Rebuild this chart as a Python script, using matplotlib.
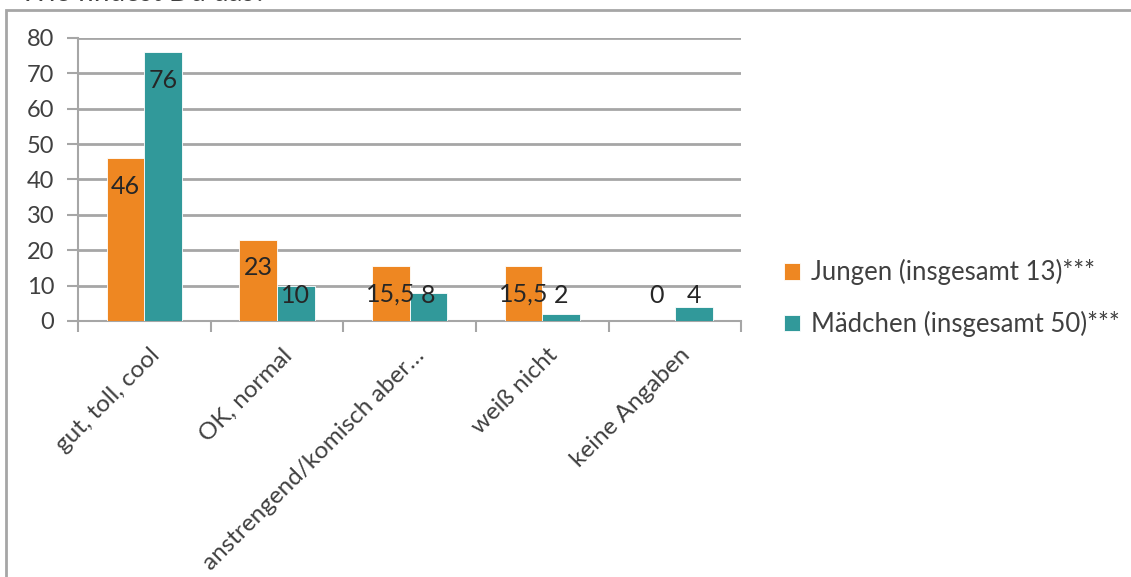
import matplotlib
matplotlib.use("Agg")
import matplotlib.pyplot as plt
from matplotlib.patches import Rectangle
import numpy as np

categories = ["gut, toll, cool", "OK, normal", "anstrengend/komisch aber…",
              "weiß nicht", "keine Angaben"]
jungen = [46, 23, 15.5, 15.5, 0]
maedchen = [76, 10, 8, 2, 4]
jungen_labels = ["46", "23", "15,5", "15,5", "0"]
maedchen_labels = ["76", "10", "8", "2", "4"]
series_names = ["Jungen (insgesamt 13)***", "Mädchen (insgesamt 50)***"]
title = "Wie findest Du das?"
yticks = list(range(0, 81, 10))

ORANGE = "#EE8722"
TEAL = "#31999A"
GRID = "#A6A6A6"
TEXT = "#404040"

plt.rcParams["font.family"] = ["Lato", "DejaVu Sans"]

fig = plt.figure(figsize=(11.31, 5.77), dpi=100)
ax = fig.add_axes([0.069, 0.4437, 0.5865, 0.4905])

# outer chart frame (runs past the right and bottom edges) and the title above it
fig.patches.append(Rectangle((0.005, -0.05), 1.2, 1.033, transform=fig.transFigure,
                             fill=False, edgecolor=GRID, linewidth=2, zorder=0))
fig.text(0.018, 1.012, title, fontsize=20, color=TEXT, va="center", ha="left")

x = np.arange(len(categories))
w = 0.283
b1 = ax.bar(x - w / 2, jungen, w, color=ORANGE, edgecolor="white", linewidth=0.6,
            label=series_names[0], zorder=3)
b2 = ax.bar(x + w / 2, maedchen, w, color=TEAL, edgecolor="white", linewidth=0.6,
            label=series_names[1], zorder=3)

ax.set_xlim(-0.5, len(categories) - 0.5)
ax.set_ylim(0, 80)
ax.set_yticks(yticks)
ax.set_yticklabels([str(t) for t in yticks], fontsize=17, color=TEXT)
ax.yaxis.grid(True, color=GRID, linewidth=2, zorder=0)
ax.set_axisbelow(True)

for s in ["top", "right"]:
    ax.spines[s].set_visible(False)
for s in ["left", "bottom"]:
    ax.spines[s].set_color(GRID)
    ax.spines[s].set_linewidth(1.5)
ax.tick_params(axis="y", length=8, width=1.5, color=GRID, pad=9)

# category ticks sit on the group boundaries
ax.set_xticks(np.arange(len(categories) + 1) - 0.5, minor=False)
ax.set_xticklabels([])
ax.tick_params(axis="x", length=8, width=1.5, color=GRID, direction="out")
for xi, cat in zip(x, categories):
    ax.annotate(cat, xy=(xi, 0), xycoords=("data", "axes fraction"),
                xytext=(3, -17), textcoords="offset points",
                rotation=45, ha="right", va="top", rotation_mode="anchor",
                fontsize=17.5, color=TEXT)

# value labels inside the bar tops, kept above the baseline for short bars
def place_labels(bars, values, texts):
    for bar, v, t in zip(bars, values, texts):
        y = max(v - 7.9, 7.3)
        ax.text(bar.get_x() + bar.get_width() / 2, y, t, ha="center", va="center",
                fontsize=18, color="#262626", zorder=4)

place_labels(b1, jungen, jungen_labels)
place_labels(b2, maedchen, maedchen_labels)

leg = fig.legend(handles=[b1, b2], labels=series_names, loc="center left",
                 bbox_to_anchor=(0.673, 0.483), frameon=False, fontsize=18.5,
                 handlelength=0.6, handleheight=0.6, handletextpad=0.45,
                 labelspacing=1.0, labelcolor=TEXT)

fig.savefig("out.png", dpi=100)
